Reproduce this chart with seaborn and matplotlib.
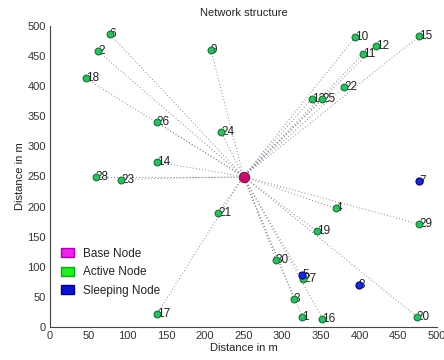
import matplotlib
matplotlib.use("Agg")
import matplotlib.pyplot as plt
import seaborn as sns
import pandas as pd
from matplotlib.patches import Patch

# ---- data ----
base_x = [250]
base_y = [250]
node_ids = [1, 2, 3, 4, 5, 6, 7, 8, 9, 10,
            11, 12, 13, 14, 15, 16, 17, 18, 19, 20,
            21, 22, 23, 24, 25, 26, 27, 28, 29, 30]
node_x = [326, 62, 315, 369, 326, 77, 477, 399, 208, 394,
          405, 421, 338, 138, 477, 352, 138, 46, 345, 474,
          217, 380, 92, 221, 352, 138, 327, 59, 477, 292]
node_y = [17, 458, 47, 197, 86, 487, 243, 69, 460, 481,
          454, 467, 379, 274, 483, 14, 21, 413, 159, 17,
          190, 399, 245, 324, 378, 340, 80, 250, 171, 111]
node_state = ["Active", "Active", "Active", "Active", "Sleeping",
              "Active", "Sleeping", "Sleeping", "Active", "Active",
              "Active", "Active", "Active", "Active", "Active",
              "Active", "Active", "Active", "Active", "Active",
              "Active", "Active", "Active", "Active", "Active",
              "Active", "Active", "Active", "Active", "Active"]
legend_labels = ["Base Node", "Active Node", "Sleeping Node"]
x_ticks = list(range(0, 501, 50))
y_ticks = list(range(0, 501, 50))

df = pd.DataFrame({"id": node_ids, "x": node_x, "y": node_y, "state": node_state})

sns.set_style("white")
plt.rcParams["font.family"] = ["Liberation Sans", "DejaVu Sans"]

fig = plt.figure(figsize=(4.44, 3.6), dpi=100)
ax = fig.add_axes([50 / 444, 1 - 327 / 360, 387 / 444, 301 / 360])

# dotted links from base to active nodes
for _, r in df[df.state == "Active"].iterrows():
    ax.plot([base_x[0], r.x], [base_y[0], r.y], linestyle=(0, (1, 2.5)),
            color="#777788", lw=0.65, zorder=1)

# labels (drawn under markers, starting at node centre)
for _, r in df.iterrows():
    ax.text(r.x, r.y, str(r.id), fontsize=8.5, color="#222222",
            va="center", ha="left", zorder=2)

sns.scatterplot(data=df[df.state == "Active"], x="x", y="y", ax=ax,
                color="#33bb66", edgecolor="#117733", linewidth=0.8,
                s=24, zorder=3, legend=False)
sns.scatterplot(data=df[df.state == "Sleeping"], x="x", y="y", ax=ax,
                color="#1a2acc", edgecolor="#000088", linewidth=0.8,
                s=26, zorder=3, legend=False)
sns.scatterplot(x=base_x, y=base_y, ax=ax, color="#c0106a",
                edgecolor="#901050", linewidth=0.8, s=55, zorder=4,
                legend=False)

ax.set_xlim(0, 500)
ax.set_ylim(0, 500)
ax.set_xticks(x_ticks)
ax.set_yticks(y_ticks)
ax.tick_params(direction="in", length=3, width=0.8, labelsize=8,
               colors="#333333", pad=3)
for s in ["top", "right"]:
    ax.spines[s].set_visible(False)
for s in ["left", "bottom"]:
    ax.spines[s].set_color("#444444")
    ax.spines[s].set_linewidth(0.8)

ax.set_title("Network structure", fontsize=8, color="#222222", pad=7)
ax.set_xlabel("Distance in m", fontsize=8, color="#222222", labelpad=1)
ax.set_ylabel("Distance in m", fontsize=8, color="#222222", labelpad=2)

handles = [Patch(facecolor="#ee22ee", edgecolor="#aa00aa"),
           Patch(facecolor="#22ee22", edgecolor="#11aa11"),
           Patch(facecolor="#0a14cc", edgecolor="#000088")]
ax.legend(handles, legend_labels, loc="lower left",
          bbox_to_anchor=(0.0, 0.065), frameon=False, fontsize=8.5,
          handlelength=1.1, handleheight=0.8, handletextpad=0.8,
          labelspacing=0.55, labelcolor="#222222")

fig.savefig("out.png", dpi=100)
